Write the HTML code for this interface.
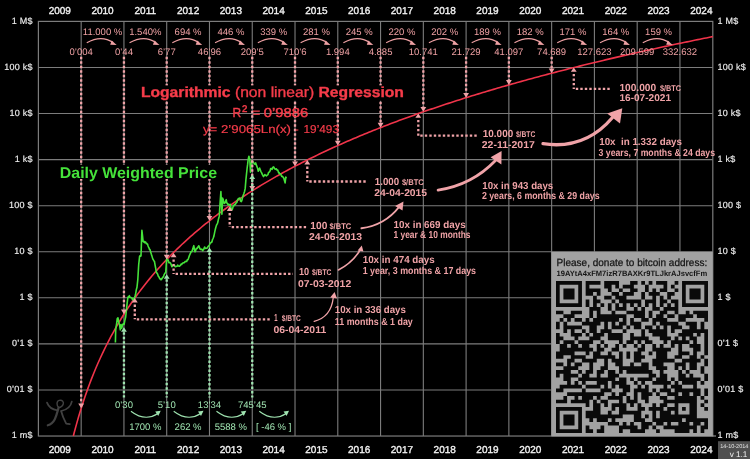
<!DOCTYPE html>
<html><head><meta charset="utf-8"><title>Bitcoin Logarithmic Regression</title>
<style>html,body{margin:0;padding:0;background:#000;overflow:hidden}svg{display:block}</style>
</head><body>
<svg width="750" height="459" viewBox="0 0 750 459" text-rendering="geometricPrecision">
<rect x="0" y="0" width="750" height="459" fill="#000"/>
<path d="M81.17 21.4V436.03M123.94 21.4V436.03M166.71 21.4V436.03M209.48 21.4V436.03M252.25 21.4V436.03M295.02 21.4V436.03M337.79 21.4V436.03M380.56 21.4V436.03M423.33 21.4V436.03M466.1 21.4V436.03M508.87 21.4V436.03M551.64 21.4V436.03M594.41 21.4V436.03M637.18 21.4V436.03M679.95 21.4V436.03M38.4 67.47H712.8M38.4 113.54H712.8M38.4 159.61H712.8M38.4 205.68H712.8M38.4 251.75H712.8M38.4 297.82H712.8M38.4 343.89H712.8M38.4 389.96H712.8" stroke="#7c7c7c" stroke-width="1.1" fill="none"/>
<rect x="38.4" y="21.4" width="674.4" height="414.63" stroke="#7c7c7c" stroke-width="1.2" fill="none"/>
<g font-family="Liberation Sans, Arial, sans-serif" font-size="10" fill="#f2f2f2" stroke="#f2f2f2" stroke-width="0.35" text-anchor="middle">
<text x="59.78" y="13.5">2009</text>
<text x="59.78" y="452.8">2009</text>
<text x="102.56" y="13.5">2010</text>
<text x="102.56" y="452.8">2010</text>
<text x="145.32" y="13.5">2011</text>
<text x="145.32" y="452.8">2011</text>
<text x="188.09" y="13.5">2012</text>
<text x="188.09" y="452.8">2012</text>
<text x="230.87" y="13.5">2013</text>
<text x="230.87" y="452.8">2013</text>
<text x="273.64" y="13.5">2014</text>
<text x="273.64" y="452.8">2014</text>
<text x="316.4" y="13.5">2015</text>
<text x="316.4" y="452.8">2015</text>
<text x="359.18" y="13.5">2016</text>
<text x="359.18" y="452.8">2016</text>
<text x="401.94" y="13.5">2017</text>
<text x="401.94" y="452.8">2017</text>
<text x="444.71" y="13.5">2018</text>
<text x="444.71" y="452.8">2018</text>
<text x="487.49" y="13.5">2019</text>
<text x="487.49" y="452.8">2019</text>
<text x="530.25" y="13.5">2020</text>
<text x="530.25" y="452.8">2020</text>
<text x="573.02" y="13.5">2021</text>
<text x="573.02" y="452.8">2021</text>
<text x="615.79" y="13.5">2022</text>
<text x="615.79" y="452.8">2022</text>
<text x="658.57" y="13.5">2023</text>
<text x="658.57" y="452.8">2023</text>
<text x="701.34" y="13.5">2024</text>
<text x="701.34" y="452.8">2024</text>
</g>
<g font-family="Liberation Sans, Arial, sans-serif" font-size="9" fill="#efefef" stroke="#efefef" stroke-width="0.15" letter-spacing="0.25">
<text x="32.8" y="23.7" text-anchor="end">1 M$</text>
<text x="717.6" y="23.7">1 M$</text>
<text x="32.8" y="69.77" text-anchor="end">100 k$</text>
<text x="717.6" y="69.77">100 k$</text>
<text x="32.8" y="115.84" text-anchor="end">10 k$</text>
<text x="717.6" y="115.84">10 k$</text>
<text x="32.8" y="161.91" text-anchor="end">1 k$</text>
<text x="717.6" y="161.91">1 k$</text>
<text x="32.8" y="207.98" text-anchor="end">100 $</text>
<text x="717.6" y="207.98">100 $</text>
<text x="32.8" y="254.05" text-anchor="end">10 $</text>
<text x="717.6" y="254.05">10 $</text>
<text x="32.8" y="300.12" text-anchor="end">1 $</text>
<text x="717.6" y="300.12">1 $</text>
<text x="32.8" y="346.19" text-anchor="end">0’1 $</text>
<text x="717.6" y="346.19">0’1 $</text>
<text x="32.8" y="392.26" text-anchor="end">0’01 $</text>
<text x="717.6" y="392.26">0’01 $</text>
<text x="32.8" y="438.33" text-anchor="end">1 m$</text>
<text x="717.6" y="438.33">1 m$</text>
</g>
<polyline points="73.34,436.03 74.3,432.3 76.45,424.34 78.6,416.82 80.75,409.7 82.9,402.94 85.05,396.51 87.2,390.37 89.35,384.5 91.5,378.88 93.65,373.48 95.8,368.3 97.95,363.3 100.1,358.49 102.25,353.84 104.4,349.35 106.55,345 108.7,340.8 110.85,336.72 113,332.76 115.15,328.91 117.3,325.17 119.45,321.53 121.6,317.99 123.75,314.54 125.9,311.18 128.05,307.9 130.2,304.7 132.35,301.57 134.49,298.51 136.64,295.53 138.79,292.6 140.94,289.74 143.09,286.94 145.24,284.2 147.39,281.51 149.54,278.88 151.69,276.29 153.84,273.76 155.99,271.27 158.14,268.83 160.29,266.43 162.44,264.07 164.59,261.75 166.74,259.48 168.89,257.24 171.04,255.04 173.19,252.87 175.34,250.74 177.49,248.64 179.64,246.58 181.79,244.54 183.94,242.54 186.09,240.56 188.24,238.62 190.39,236.7 192.54,234.81 194.69,232.94 196.84,231.1 198.99,229.29 201.14,227.5 203.29,225.73 205.44,223.99 207.59,222.27 209.74,220.57 211.89,218.89 214.04,217.24 216.19,215.6 218.34,213.98 220.49,212.39 222.64,210.81 224.79,209.25 226.94,207.7 229.09,206.18 231.24,204.67 233.39,203.18 235.54,201.71 237.69,200.25 239.84,198.81 241.99,197.38 244.14,195.97 246.29,194.57 248.44,193.19 250.59,191.82 252.74,190.46 254.89,189.12 257.04,187.79 259.19,186.48 261.34,185.17 263.48,183.88 265.63,182.61 267.78,181.34 269.93,180.09 272.08,178.85 274.23,177.62 276.38,176.4 278.53,175.19 280.68,173.99 282.83,172.8 284.98,171.63 287.13,170.46 289.28,169.3 291.43,168.16 293.58,167.02 295.73,165.9 297.88,164.78 300.03,163.67 302.18,162.57 304.33,161.48 306.48,160.4 308.63,159.33 310.78,158.26 312.93,157.21 315.08,156.16 317.23,155.12 319.38,154.09 321.53,153.06 323.68,152.05 325.83,151.04 327.98,150.04 330.13,149.05 332.28,148.06 334.43,147.08 336.58,146.11 338.73,145.14 340.88,144.19 343.03,143.24 345.18,142.29 347.33,141.35 349.48,140.42 351.63,139.5 353.78,138.58 355.93,137.67 358.08,136.76 360.23,135.86 362.38,134.97 364.53,134.08 366.68,133.2 368.83,132.32 370.98,131.45 373.13,130.59 375.28,129.73 377.43,128.87 379.58,128.03 381.73,127.18 383.88,126.34 386.03,125.51 388.18,124.68 390.33,123.86 392.47,123.04 394.62,122.23 396.77,121.42 398.92,120.62 401.07,119.82 403.22,119.03 405.37,118.24 407.52,117.46 409.67,116.68 411.82,115.9 413.97,115.13 416.12,114.37 418.27,113.61 420.42,112.85 422.57,112.1 424.72,111.35 426.87,110.6 429.02,109.86 431.17,109.13 433.32,108.39 435.47,107.66 437.62,106.94 439.77,106.22 441.92,105.5 444.07,104.79 446.22,104.08 448.37,103.38 450.52,102.67 452.67,101.98 454.82,101.28 456.97,100.59 459.12,99.9 461.27,99.22 463.42,98.54 465.57,97.86 467.72,97.19 469.87,96.52 472.02,95.85 474.17,95.19 476.32,94.53 478.47,93.87 480.62,93.22 482.77,92.57 484.92,91.92 487.07,91.27 489.22,90.63 491.37,90 493.52,89.36 495.67,88.73 497.82,88.1 499.97,87.47 502.12,86.85 504.27,86.23 506.42,85.61 508.57,85 510.72,84.38 512.87,83.78 515.02,83.17 517.17,82.57 519.32,81.96 521.46,81.37 523.61,80.77 525.76,80.18 527.91,79.59 530.06,79 532.21,78.41 534.36,77.83 536.51,77.25 538.66,76.67 540.81,76.1 542.96,75.53 545.11,74.96 547.26,74.39 549.41,73.82 551.56,73.26 553.71,72.7 555.86,72.14 558.01,71.58 560.16,71.03 562.31,70.48 564.46,69.93 566.61,69.38 568.76,68.84 570.91,68.3 573.06,67.76 575.21,67.22 577.36,66.68 579.51,66.15 581.66,65.62 583.81,65.09 585.96,64.56 588.11,64.03 590.26,63.51 592.41,62.99 594.56,62.47 596.71,61.95 598.86,61.44 601.01,60.92 603.16,60.41 605.31,59.9 607.46,59.39 609.61,58.89 611.76,58.38 613.91,57.88 616.06,57.38 618.21,56.88 620.36,56.39 622.51,55.89 624.66,55.4 626.81,54.91 628.96,54.42 631.11,53.93 633.26,53.45 635.41,52.97 637.56,52.48 639.71,52 641.86,51.52 644.01,51.05 646.16,50.57 648.31,50.1 650.45,49.63 652.6,49.16 654.75,48.69 656.9,48.22 659.05,47.76 661.2,47.29 663.35,46.83 665.5,46.37 667.65,45.91 669.8,45.45 671.95,45 674.1,44.54 676.25,44.09 678.4,43.64 680.55,43.19 682.7,42.74 684.85,42.3 687,41.85 689.15,41.41 691.3,40.97 693.45,40.52 695.6,40.09 697.75,39.65 699.9,39.21 702.05,38.78 704.2,38.34 706.35,37.91 708.5,37.48 710.65,37.05 712.8,36.62" stroke="#f0344a" stroke-width="1.6" fill="none"/>
<polyline points="115.4,342.6 115.7,330.08 116.2,326.03 116.7,323.1 117.2,318.84 118,317.79 118.7,322.23 119.5,324.75 120.3,329.83 121,324.66 121.8,328.15 122.6,324.61 123.1,323.91 123.6,323.9 124.1,324.39 124.8,320.57 125.6,317.36 126.4,310.27 127.1,303.58 127.9,297.31 128.4,296.63 128.9,297.18 129.4,295.68 129.93,297.24 130.47,297.41 131,297.59 131.5,297.72 132,298.36 132.5,299.85 133,299.02 133.5,299.18 134,299.27 134.5,297.69 135,296.58 135.5,294.52 136,291.51 136.5,288.96 137,287.26 137.8,279.68 138.7,264.49 139.15,260.57 139.6,256.25 140.07,255.66 140.53,256.09 141,256.02 141.45,242.67 141.9,230.24 142.5,235.52 143.1,241.41 143.62,241.84 144.14,241.44 144.66,242.62 145.18,241.87 145.7,242.15 146.15,243.37 146.6,243.25 147.05,244.08 147.5,244.02 148,245.65 148.5,247.11 149,247.96 149.5,249.37 150,249.53 150.45,251.35 150.9,252.85 151.35,254.34 151.8,255.62 152.32,257.4 152.84,259.11 153.36,259.76 153.88,261 154.4,261.15 155,264.62 155.6,267.73 156.2,271.37 156.72,272.87 157.24,273.35 157.76,274.43 158.28,276.17 158.8,276.59 159.37,277.97 159.93,278.72 160.5,279.54 160.95,278.84 161.4,279.55 161.85,278.59 162.3,278.09 162.87,277.13 163.43,276.95 164,274.9 164.57,273.91 165.13,273.02 165.7,272.61 166.15,265.96 166.6,259.26 167.05,258.99 167.5,259.38 167.95,259.78 168.4,261.25 168.97,262.69 169.53,262.42 170.1,262.71 170.55,263.37 171,264.13 171.45,265.39 171.9,266.67 172.47,266.03 173.03,265.1 173.6,265.21 174.12,265.33 174.64,265.75 175.16,266.68 175.68,266.72 176.2,266.42 176.7,266.3 177.2,266.28 177.7,265.08 178.2,265.88 178.7,266.04 179.2,266.23 179.7,266.13 180.2,265.32 180.7,264.83 181.2,263.97 181.7,264.41 182.2,263.57 182.7,263.06 183.2,262.99 183.7,262.68 184.2,262.73 184.7,262.12 185.2,261.59 185.7,261.46 186.2,261.18 186.7,261.4 187.25,259.79 187.8,259.87 188.35,258.88 188.9,256.94 189.4,255.6 189.9,254.51 190.4,253.43 190.9,251.88 191.4,251.82 191.9,251.52 192.38,250.07 192.85,248.87 193.33,247.05 193.8,245.64 194.3,248.73 194.8,251.6 195.3,251.62 195.8,249.99 196.3,248.41 196.8,248.77 197.28,248.27 197.75,247.09 198.22,246.95 198.7,245.72 199.2,246.69 199.7,248.24 200.2,249.11 200.7,249.49 201.17,249.16 201.65,249.39 202.12,249.39 202.6,250.7 203.1,249.96 203.6,249.66 204.1,248.35 204.6,247.1 205.08,247.74 205.57,248.33 206.05,248.35 206.53,248.21 207.02,248.09 207.5,247.81 208,246.57 208.5,246.3 209,245.74 209.5,244.74 210,243.57 210.5,243.04 211,242.38 211.5,242.46 211.98,241.76 212.47,239.72 212.95,238.74 213.43,237.56 213.92,236.12 214.4,233.53 214.9,231.11 215.4,229.06 215.9,227.14 216.4,225.36 216.9,224.4 217.4,223.64 217.88,222.06 218.35,219.66 218.83,217.78 219.3,216.13 219.8,207.16 220.3,199.73 220.9,191.61 221.4,203 221.9,214.27 222.6,198.1 223.13,199.26 223.67,201.89 224.2,203.39 224.7,203.01 225.2,202.66 225.7,201 226.2,199.66 226.67,201.91 227.15,203.41 227.62,203.91 228.1,204.76 228.6,204.22 229.1,205.16 229.6,205.39 230.1,204.22 230.6,206.16 231.1,208.05 231.6,209.06 232.1,209.62 232.57,208.63 233.05,206.9 233.53,205.3 234,205.7 234.5,205.13 235,204.26 235.5,204.17 236,202.89 236.47,202.66 236.95,202.12 237.43,200.39 237.9,199.19 238.4,198.75 238.9,198.3 239.4,198.57 239.9,198.01 240.5,201.03 241.3,201.58 241.95,200.13 242.6,197.16 243.25,195.2 243.9,193.47 244.55,191.51 245.2,188.38 245.9,179.9 246.55,173.6 247.2,167.53 247.65,164.18 248.1,159.96 248.9,156.28 249.35,157.9 249.8,159.34 250.5,172.29 251.1,165.19 251.55,162.86 252,160.87 252.55,161.54 253.1,161.79 253.75,162.92 254.4,164.06 255.05,164.19 255.7,162.89 256.35,165.13 257,166.68 257.65,168.46 258.3,171.21 258.95,169.58 259.6,168.05 260.25,169.75 260.9,171.55 261.55,172.62 262.2,174.26 262.85,175.36 263.5,176.57 264.15,175.84 264.8,174.56 265.45,175.2 266.1,175.74 266.57,175.88 267.03,175.24 267.5,174.92 267.98,174.54 268.45,172.79 268.92,172.07 269.4,172.06 270.05,170.94 270.7,168.47 271.35,168.45 272,169.31 272.65,167.81 273.3,166.86 273.95,167.21 274.6,168.77 275.25,169.12 275.9,169.37 276.37,168.79 276.83,169.68 277.3,170.26 277.77,170.08 278.25,171.62 278.73,172.93 279.2,172.6 279.7,173.85 280.2,173.75 280.7,174.06 281.2,175.36 281.85,176.53 282.5,176.41 283.15,177.23 283.8,178.26 284.45,180.64 285.1,182.88 285.8,176.98 286.4,178.3" stroke="#45e23a" stroke-width="1.6" fill="none" stroke-linejoin="round"/>
<g font-family="Liberation Sans, Arial, sans-serif" font-size="9.5" fill="#eea0a3" text-anchor="middle">
<text x="81.17" y="54.5">0’004</text>
<text x="123.94" y="54.5">0’44</text>
<text x="166.71" y="54.5">6’77</text>
<text x="209.48" y="54.5">46’96</text>
<text x="252.25" y="54.5">209’5</text>
<text x="295.02" y="54.5">710’6</text>
<text x="337.79" y="54.5">1.994</text>
<text x="380.56" y="54.5">4.885</text>
<text x="423.33" y="54.5">10.741</text>
<text x="466.1" y="54.5">21.729</text>
<text x="508.87" y="54.5">41.097</text>
<text x="551.64" y="54.5">74.689</text>
<text x="594.41" y="54.5">127.623</text>
<text x="637.18" y="54.5">209.599</text>
<text x="679.95" y="54.5">332.632</text>
<text x="102.56" y="34.8">11.000 %</text>
<text x="145.32" y="34.8">1.540%</text>
<text x="188.09" y="34.8">694 %</text>
<text x="230.87" y="34.8">446 %</text>
<text x="273.64" y="34.8">339 %</text>
<text x="316.4" y="34.8">281 %</text>
<text x="359.18" y="34.8">245 %</text>
<text x="401.94" y="34.8">220 %</text>
<text x="444.71" y="34.8">202 %</text>
<text x="487.49" y="34.8">189 %</text>
<text x="530.25" y="34.8">182 %</text>
<text x="573.02" y="34.8">171 %</text>
<text x="615.79" y="34.8">164 %</text>
<text x="658.57" y="34.8">159 %</text>
</g>
<path d="M86.77 42.8Q101.17 34.5 113.17 42.5" stroke="#eea0a3" stroke-width="1.1" fill="none"/>
<path d="M111.67 40.6L116.67 45L110.17 44.8Z" fill="#eea0a3"/>
<path d="M129.54 42.8Q143.94 34.5 155.94 42.5" stroke="#eea0a3" stroke-width="1.1" fill="none"/>
<path d="M154.44 40.6L159.44 45L152.94 44.8Z" fill="#eea0a3"/>
<path d="M172.31 42.8Q186.71 34.5 198.71 42.5" stroke="#eea0a3" stroke-width="1.1" fill="none"/>
<path d="M197.21 40.6L202.21 45L195.71 44.8Z" fill="#eea0a3"/>
<path d="M215.08 42.8Q229.48 34.5 241.48 42.5" stroke="#eea0a3" stroke-width="1.1" fill="none"/>
<path d="M239.98 40.6L244.98 45L238.48 44.8Z" fill="#eea0a3"/>
<path d="M257.85 42.8Q272.25 34.5 284.25 42.5" stroke="#eea0a3" stroke-width="1.1" fill="none"/>
<path d="M282.75 40.6L287.75 45L281.25 44.8Z" fill="#eea0a3"/>
<path d="M300.62 42.8Q315.02 34.5 327.02 42.5" stroke="#eea0a3" stroke-width="1.1" fill="none"/>
<path d="M325.52 40.6L330.52 45L324.02 44.8Z" fill="#eea0a3"/>
<path d="M343.39 42.8Q357.79 34.5 369.79 42.5" stroke="#eea0a3" stroke-width="1.1" fill="none"/>
<path d="M368.29 40.6L373.29 45L366.79 44.8Z" fill="#eea0a3"/>
<path d="M386.16 42.8Q400.56 34.5 412.56 42.5" stroke="#eea0a3" stroke-width="1.1" fill="none"/>
<path d="M411.06 40.6L416.06 45L409.56 44.8Z" fill="#eea0a3"/>
<path d="M428.93 42.8Q443.33 34.5 455.33 42.5" stroke="#eea0a3" stroke-width="1.1" fill="none"/>
<path d="M453.83 40.6L458.83 45L452.33 44.8Z" fill="#eea0a3"/>
<path d="M471.7 42.8Q486.1 34.5 498.1 42.5" stroke="#eea0a3" stroke-width="1.1" fill="none"/>
<path d="M496.6 40.6L501.6 45L495.1 44.8Z" fill="#eea0a3"/>
<path d="M514.47 42.8Q528.87 34.5 540.87 42.5" stroke="#eea0a3" stroke-width="1.1" fill="none"/>
<path d="M539.37 40.6L544.37 45L537.87 44.8Z" fill="#eea0a3"/>
<path d="M557.24 42.8Q571.64 34.5 583.64 42.5" stroke="#eea0a3" stroke-width="1.1" fill="none"/>
<path d="M582.14 40.6L587.14 45L580.64 44.8Z" fill="#eea0a3"/>
<path d="M600.01 42.8Q614.41 34.5 626.41 42.5" stroke="#eea0a3" stroke-width="1.1" fill="none"/>
<path d="M624.91 40.6L629.91 45L623.41 44.8Z" fill="#eea0a3"/>
<path d="M642.78 42.8Q657.18 34.5 669.18 42.5" stroke="#eea0a3" stroke-width="1.1" fill="none"/>
<path d="M667.68 40.6L672.68 45L666.18 44.8Z" fill="#eea0a3"/>
<path d="M81.17 56.8V403.35" stroke="#f0a3a8" stroke-width="2.3" stroke-dasharray="2.4 2.1" fill="none"/>
<path d="M78.27 403.55H84.07L81.17 408.35Z" fill="#f0a3a8"/>
<path d="M123.94 56.8V309.24" stroke="#f0a3a8" stroke-width="2.3" stroke-dasharray="2.4 2.1" fill="none"/>
<path d="M121.04 309.44H126.84L123.94 314.24Z" fill="#f0a3a8"/>
<path d="M166.71 56.8V254.51" stroke="#f0a3a8" stroke-width="2.3" stroke-dasharray="2.4 2.1" fill="none"/>
<path d="M163.81 254.71H169.61L166.71 259.51Z" fill="#f0a3a8"/>
<path d="M209.48 56.8V215.77" stroke="#f0a3a8" stroke-width="2.3" stroke-dasharray="2.4 2.1" fill="none"/>
<path d="M206.58 215.97H212.38L209.48 220.77Z" fill="#f0a3a8"/>
<path d="M252.25 56.8V185.77" stroke="#f0a3a8" stroke-width="2.3" stroke-dasharray="2.4 2.1" fill="none"/>
<path d="M249.35 185.97H255.15L252.25 190.77Z" fill="#f0a3a8"/>
<path d="M295.02 56.8V161.27" stroke="#f0a3a8" stroke-width="2.3" stroke-dasharray="2.4 2.1" fill="none"/>
<path d="M292.12 161.47H297.92L295.02 166.27Z" fill="#f0a3a8"/>
<path d="M337.79 56.8V140.57" stroke="#f0a3a8" stroke-width="2.3" stroke-dasharray="2.4 2.1" fill="none"/>
<path d="M334.89 140.77H340.69L337.79 145.57Z" fill="#f0a3a8"/>
<path d="M380.56 56.8V122.64" stroke="#f0a3a8" stroke-width="2.3" stroke-dasharray="2.4 2.1" fill="none"/>
<path d="M377.66 122.84H383.46L380.56 127.64Z" fill="#f0a3a8"/>
<path d="M423.33 56.8V106.83" stroke="#f0a3a8" stroke-width="2.3" stroke-dasharray="2.4 2.1" fill="none"/>
<path d="M420.43 107.03H426.23L423.33 111.83Z" fill="#f0a3a8"/>
<path d="M466.1 56.8V92.7" stroke="#f0a3a8" stroke-width="2.3" stroke-dasharray="2.4 2.1" fill="none"/>
<path d="M463.2 92.9H469L466.1 97.7Z" fill="#f0a3a8"/>
<path d="M508.87 56.8V79.91" stroke="#f0a3a8" stroke-width="2.3" stroke-dasharray="2.4 2.1" fill="none"/>
<path d="M505.97 80.11H511.77L508.87 84.91Z" fill="#f0a3a8"/>
<path d="M551.64 56.8V68.24" stroke="#f0a3a8" stroke-width="2.3" stroke-dasharray="2.4 2.1" fill="none"/>
<path d="M548.74 68.44H554.54L551.64 73.24Z" fill="#f0a3a8"/>
<path d="M123.94 332.3V397.5" stroke="#9fe3b0" stroke-width="2.3" stroke-dasharray="2.4 2.1" fill="none"/>
<path d="M121.04 331.8H126.84L123.94 327.3Z" fill="#9fe3b0"/>
<path d="M166.71 279.3V397.5" stroke="#9fe3b0" stroke-width="2.3" stroke-dasharray="2.4 2.1" fill="none"/>
<path d="M163.81 278.8H169.61L166.71 274.3Z" fill="#9fe3b0"/>
<path d="M209.48 252.6V397.5" stroke="#9fe3b0" stroke-width="2.3" stroke-dasharray="2.4 2.1" fill="none"/>
<path d="M206.58 252.1H212.38L209.48 247.6Z" fill="#9fe3b0"/>
<path d="M252.25 179.5V397.5" stroke="#9fe3b0" stroke-width="2.3" stroke-dasharray="2.4 2.1" fill="none"/>
<path d="M249.35 179H255.15L252.25 174.5Z" fill="#9fe3b0"/>
<g font-family="Liberation Sans, Arial, sans-serif" font-size="9.5" fill="#9fe3b0" text-anchor="middle">
<text x="123.94" y="407.7">0’30</text>
<text x="166.71" y="407.7">5’10</text>
<text x="209.48" y="407.7">13’34</text>
<text x="252.25" y="407.7">745’45</text>
<text x="145.32" y="429.7">1700 %</text>
<text x="188.09" y="429.7">262 %</text>
<text x="230.87" y="429.7">5588 %</text>
<text x="273.64" y="429.7">[ -46 % ]</text>
</g>
<path d="M130.94 411.2Q144.94 422 157.94 413.5" stroke="#9fe3b0" stroke-width="1.1" fill="none"/>
<path d="M155.24 411.6L160.74 410.7L158.24 415.9Z" fill="#9fe3b0"/>
<path d="M173.71 411.2Q187.71 422 200.71 413.5" stroke="#9fe3b0" stroke-width="1.1" fill="none"/>
<path d="M198.01 411.6L203.51 410.7L201.01 415.9Z" fill="#9fe3b0"/>
<path d="M216.48 411.2Q230.48 422 243.48 413.5" stroke="#9fe3b0" stroke-width="1.1" fill="none"/>
<path d="M240.78 411.6L246.28 410.7L243.78 415.9Z" fill="#9fe3b0"/>
<path d="M259.25 411.2Q273.25 422 286.25 413.5" stroke="#9fe3b0" stroke-width="1.1" fill="none"/>
<path d="M283.55 411.6L289.05 410.7L286.55 415.9Z" fill="#9fe3b0"/>
<path d="M131.9 302.4H137.7L134.8 298Z" fill="#f0a3a8"/>
<path d="M134.8 304.5V319.3" stroke="#f0a3a8" stroke-width="2.3" stroke-dasharray="2.4 2.1" fill="none"/>
<path d="M136.8 319.3H271.5" stroke="#f0a3a8" stroke-width="2.3" stroke-dasharray="2.4 2.1" fill="none"/>
<text x="274.3" y="320.5" font-size="10.3" textLength="3.3" lengthAdjust="spacingAndGlyphs" font-family="Liberation Sans, Arial, sans-serif" fill="#efa2a6" font-weight="bold">1</text>
<text x="281.8" y="320.5" font-size="8.3" textLength="19.1" lengthAdjust="spacingAndGlyphs" font-family="Liberation Sans, Arial, sans-serif" fill="#efa2a6" font-weight="bold">$/BTC</text>
<text x="273.4" y="332.7" font-size="9.9" textLength="52.8" lengthAdjust="spacingAndGlyphs" font-family="Liberation Sans, Arial, sans-serif" fill="#efa2a6" font-weight="bold">06-04-2011</text>
<path d="M170.7 257.3H176.5L173.6 252.9Z" fill="#f0a3a8"/>
<path d="M173.6 259.4V273.9" stroke="#f0a3a8" stroke-width="2.3" stroke-dasharray="2.4 2.1" fill="none"/>
<path d="M175.6 273.9H293" stroke="#f0a3a8" stroke-width="2.3" stroke-dasharray="2.4 2.1" fill="none"/>
<text x="298.9" y="274.6" font-size="10.3" textLength="10.2" lengthAdjust="spacingAndGlyphs" font-family="Liberation Sans, Arial, sans-serif" fill="#efa2a6" font-weight="bold">10</text>
<text x="311.9" y="274.6" font-size="8.3" textLength="19.6" lengthAdjust="spacingAndGlyphs" font-family="Liberation Sans, Arial, sans-serif" fill="#efa2a6" font-weight="bold">$/BTC</text>
<text x="297.9" y="286.5" font-size="9.9" textLength="53.3" lengthAdjust="spacingAndGlyphs" font-family="Liberation Sans, Arial, sans-serif" fill="#efa2a6" font-weight="bold">07-03-2012</text>
<path d="M226.8 210.9H232.6L229.7 206.5Z" fill="#f0a3a8"/>
<path d="M229.7 213V227.1" stroke="#f0a3a8" stroke-width="2.3" stroke-dasharray="2.4 2.1" fill="none"/>
<path d="M231.7 227.1H307.5" stroke="#f0a3a8" stroke-width="2.3" stroke-dasharray="2.4 2.1" fill="none"/>
<text x="310.3" y="228.8" font-size="10.3" textLength="17" lengthAdjust="spacingAndGlyphs" font-family="Liberation Sans, Arial, sans-serif" fill="#efa2a6" font-weight="bold">100</text>
<text x="329.4" y="228.8" font-size="8.3" textLength="21.8" lengthAdjust="spacingAndGlyphs" font-family="Liberation Sans, Arial, sans-serif" fill="#efa2a6" font-weight="bold">$/BTC</text>
<text x="308.9" y="240.4" font-size="9.9" textLength="53.2" lengthAdjust="spacingAndGlyphs" font-family="Liberation Sans, Arial, sans-serif" fill="#efa2a6" font-weight="bold">24-06-2013</text>
<path d="M304.4 164.5H310.2L307.3 160.1Z" fill="#f0a3a8"/>
<path d="M307.3 166.6V181.5" stroke="#f0a3a8" stroke-width="2.3" stroke-dasharray="2.4 2.1" fill="none"/>
<path d="M309.3 181.5H366.5" stroke="#f0a3a8" stroke-width="2.3" stroke-dasharray="2.4 2.1" fill="none"/>
<text x="374.8" y="184.5" font-size="10.3" textLength="24.3" lengthAdjust="spacingAndGlyphs" font-family="Liberation Sans, Arial, sans-serif" fill="#efa2a6" font-weight="bold">1.000</text>
<text x="401.9" y="184.5" font-size="8.3" textLength="21.9" lengthAdjust="spacingAndGlyphs" font-family="Liberation Sans, Arial, sans-serif" fill="#efa2a6" font-weight="bold">$/BTC</text>
<text x="374.3" y="196.1" font-size="9.9" textLength="52.8" lengthAdjust="spacingAndGlyphs" font-family="Liberation Sans, Arial, sans-serif" fill="#efa2a6" font-weight="bold">24-04-2015</text>
<path d="M415.4 117.8H421.2L418.3 113.4Z" fill="#f0a3a8"/>
<path d="M418.3 119.9V135.7" stroke="#f0a3a8" stroke-width="2.3" stroke-dasharray="2.4 2.1" fill="none"/>
<path d="M420.3 135.7H478" stroke="#f0a3a8" stroke-width="2.3" stroke-dasharray="2.4 2.1" fill="none"/>
<text x="482.8" y="136.6" font-size="10.3" textLength="30.4" lengthAdjust="spacingAndGlyphs" font-family="Liberation Sans, Arial, sans-serif" fill="#efa2a6" font-weight="bold">10.000</text>
<text x="515.9" y="136.6" font-size="8.3" textLength="19.4" lengthAdjust="spacingAndGlyphs" font-family="Liberation Sans, Arial, sans-serif" fill="#efa2a6" font-weight="bold">$/BTC</text>
<text x="481.7" y="147.6" font-size="9.9" textLength="53.2" lengthAdjust="spacingAndGlyphs" font-family="Liberation Sans, Arial, sans-serif" fill="#efa2a6" font-weight="bold">22-11-2017</text>
<path d="M570.9 71.8H576.7L573.8 67.4Z" fill="#f0a3a8"/>
<path d="M573.8 73.9V88.9" stroke="#f0a3a8" stroke-width="2.3" stroke-dasharray="2.4 2.1" fill="none"/>
<path d="M575.8 88.9H611.5" stroke="#f0a3a8" stroke-width="2.3" stroke-dasharray="2.4 2.1" fill="none"/>
<text x="619.4" y="90.5" font-size="10.3" textLength="36.8" lengthAdjust="spacingAndGlyphs" font-family="Liberation Sans, Arial, sans-serif" fill="#efa2a6" font-weight="bold">100.000</text>
<text x="659.9" y="90.5" font-size="8.3" textLength="21.1" lengthAdjust="spacingAndGlyphs" font-family="Liberation Sans, Arial, sans-serif" fill="#efa2a6" font-weight="bold">$/BTC</text>
<text x="619.4" y="101.1" font-size="9.9" textLength="51.7" lengthAdjust="spacingAndGlyphs" font-family="Liberation Sans, Arial, sans-serif" fill="#efa2a6" font-weight="bold">16-07-2021</text>
<path d="M314.2 321.4Q331 317 333.2 298" stroke="#f0a3a8" stroke-width="1.3" fill="none" stroke-linecap="round"/>
<path d="M334.6 292L330.2 297.6L337 298.4Z" fill="#f0a3a8"/>
<path d="M338.4 270Q352 263 359.5 251" stroke="#f0a3a8" stroke-width="1.6" fill="none" stroke-linecap="round"/>
<path d="M361.8 245.4L357.6 250.6L363.4 251.6Z" fill="#f0a3a8"/>
<path d="M361.5 228.3Q385 225 399 207" stroke="#f0a3a8" stroke-width="2.0" fill="none" stroke-linecap="round"/>
<path d="M403.5 201.4L395.1 206L402.5 210.6Z" fill="#f0a3a8"/>
<path d="M438.1 190.1Q472 185 495.5 160.5" stroke="#f0a3a8" stroke-width="2.8" fill="none" stroke-linecap="round"/>
<path d="M501.6 151.1L490.6 157.2L501.4 164.6Z" fill="#f0a3a8"/>
<path d="M543 143.7Q585 150 612.5 117.5" stroke="#f0a3a8" stroke-width="3.3" fill="none" stroke-linecap="round"/>
<path d="M622.3 108.3L607.2 113.4L620 123.6Z" fill="#f0a3a8"/>
<text x="334.8" y="313.4" font-size="10.1" textLength="71.1" lengthAdjust="spacingAndGlyphs" xml:space="preserve" font-family="Liberation Sans, Arial, sans-serif" fill="#efa2a6" font-weight="bold">10x in 336 days</text>
<text x="334.8" y="324.6" font-size="10.1" textLength="78" lengthAdjust="spacingAndGlyphs" xml:space="preserve" font-family="Liberation Sans, Arial, sans-serif" fill="#efa2a6" font-weight="bold">11 months &amp; 1 day</text>
<text x="362.7" y="263.3" font-size="10.1" textLength="72" lengthAdjust="spacingAndGlyphs" xml:space="preserve" font-family="Liberation Sans, Arial, sans-serif" fill="#efa2a6" font-weight="bold">10x in 474 days</text>
<text x="362.7" y="273.5" font-size="10.1" textLength="113.3" lengthAdjust="spacingAndGlyphs" xml:space="preserve" font-family="Liberation Sans, Arial, sans-serif" fill="#efa2a6" font-weight="bold">1 year, 3 months &amp; 17 days</text>
<text x="393.5" y="227.5" font-size="10.1" textLength="72.2" lengthAdjust="spacingAndGlyphs" xml:space="preserve" font-family="Liberation Sans, Arial, sans-serif" fill="#efa2a6" font-weight="bold">10x in 669 days</text>
<text x="393.5" y="237.9" font-size="10.1" textLength="77" lengthAdjust="spacingAndGlyphs" xml:space="preserve" font-family="Liberation Sans, Arial, sans-serif" fill="#efa2a6" font-weight="bold">1 year &amp; 10 months</text>
<text x="482.3" y="188.7" font-size="10.1" textLength="70.9" lengthAdjust="spacingAndGlyphs" xml:space="preserve" font-family="Liberation Sans, Arial, sans-serif" fill="#efa2a6" font-weight="bold">10x in 943 days</text>
<text x="481.9" y="198.9" font-size="10.1" textLength="117.7" lengthAdjust="spacingAndGlyphs" xml:space="preserve" font-family="Liberation Sans, Arial, sans-serif" fill="#efa2a6" font-weight="bold">2 years, 6 months &amp; 29 days</text>
<text x="599.2" y="144.6" font-size="10.1" textLength="82.8" lengthAdjust="spacingAndGlyphs" xml:space="preserve" font-family="Liberation Sans, Arial, sans-serif" fill="#efa2a6" font-weight="bold">10x  in 1.332 days</text>
<text x="598.6" y="155.9" font-size="10.1" textLength="116.4" lengthAdjust="spacingAndGlyphs" xml:space="preserve" font-family="Liberation Sans, Arial, sans-serif" fill="#efa2a6" font-weight="bold">3 years, 7 months &amp; 24 days</text>
<rect x="139.6" y="85.4" width="265.8" height="15.4" fill="#000"/>
<rect x="58.4" y="165.0" width="160.4" height="14.0" fill="#000"/>
<text x="140.9" y="97" font-family="Liberation Sans, Arial, sans-serif" font-size="14.6" fill="#f63c4a" stroke="#f63c4a" stroke-width="0.35" textLength="263" lengthAdjust="spacingAndGlyphs"><tspan font-weight="bold">Logarithmic</tspan> (non linear) <tspan font-weight="bold">Regression</tspan></text>
<g font-family="Liberation Sans, Arial, sans-serif" fill="#f63c4a" stroke="#f63c4a" stroke-width="0.45"><text x="232.6" y="117" font-size="13" textLength="8.6" lengthAdjust="spacingAndGlyphs">R</text><text x="242.0" y="111.8" font-size="9.6">2</text><text x="252.4" y="117" font-size="13" textLength="7.6" lengthAdjust="spacingAndGlyphs">=</text><text x="263.8" y="117" font-size="13" textLength="44.5" lengthAdjust="spacingAndGlyphs">0’9886</text></g>
<g font-family="Liberation Sans, Arial, sans-serif" font-size="11.5" fill="#f63c4a" stroke="#f63c4a" stroke-width="0.18"><text x="202.9" y="133.2" textLength="88.1" lengthAdjust="spacingAndGlyphs">y= 2’9065Ln(x)</text><text x="295.3" y="133.2" textLength="3.4" lengthAdjust="spacingAndGlyphs">-</text><text x="303.5" y="133.2" textLength="35.5" lengthAdjust="spacingAndGlyphs">19’493</text></g>
<text x="59.8" y="177.8" font-family="Liberation Sans, Arial, sans-serif" font-size="15.5" font-weight="bold" fill="#45e23a" textLength="157.2" lengthAdjust="spacingAndGlyphs">Daily Weighted Price</text>
<rect x="551.4" y="251.8" width="161.4" height="184.6" fill="#a2a2a2"/>
<rect x="712.5" y="435.5" width="3.5" height="1" fill="#a0a0a0"/>
<text x="556.6" y="265.6" font-family="Liberation Sans, Arial, sans-serif" font-size="10.4" fill="#141414" stroke="#141414" stroke-width="0.25" textLength="150.6" lengthAdjust="spacingAndGlyphs">Please, donate to bitcoin address:</text>
<text x="556.6" y="276.2" font-family="Liberation Sans, Arial, sans-serif" font-size="7.8" font-weight="bold" fill="#141414" textLength="150.6" lengthAdjust="spacingAndGlyphs">19AYtA4xFM7izR7BAXKr9TLJkrAJsvcfFm</text>
<path d="M556 281h25.95v3.71h-25.95zM585.66 281h14.83v3.71h-14.83zM604.2 281h14.83v3.71h-14.83zM630.15 281h7.41v3.71h-7.41zM641.27 281h3.71v3.71h-3.71zM648.68 281h3.71v3.71h-3.71zM656.1 281h11.12v3.71h-11.12zM674.63 281h3.71v3.71h-3.71zM682.05 281h25.95v3.71h-25.95zM556 284.71h3.71v3.71h-3.71zM578.24 284.71h3.71v3.71h-3.71zM585.66 284.71h3.71v3.71h-3.71zM604.2 284.71h7.41v3.71h-7.41zM615.32 284.71h3.71v3.71h-3.71zM622.73 284.71h11.12v3.71h-11.12zM644.98 284.71h3.71v3.71h-3.71zM663.51 284.71h3.71v3.71h-3.71zM670.93 284.71h3.71v3.71h-3.71zM682.05 284.71h3.71v3.71h-3.71zM704.29 284.71h3.71v3.71h-3.71zM556 288.41h3.71v3.71h-3.71zM563.41 288.41h11.12v3.71h-11.12zM578.24 288.41h3.71v3.71h-3.71zM585.66 288.41h14.83v3.71h-14.83zM607.9 288.41h3.71v3.71h-3.71zM619.02 288.41h3.71v3.71h-3.71zM630.15 288.41h7.41v3.71h-7.41zM644.98 288.41h3.71v3.71h-3.71zM652.39 288.41h3.71v3.71h-3.71zM659.8 288.41h7.41v3.71h-7.41zM674.63 288.41h3.71v3.71h-3.71zM682.05 288.41h3.71v3.71h-3.71zM689.46 288.41h11.12v3.71h-11.12zM704.29 288.41h3.71v3.71h-3.71zM556 292.12h3.71v3.71h-3.71zM563.41 292.12h11.12v3.71h-11.12zM578.24 292.12h3.71v3.71h-3.71zM585.66 292.12h7.41v3.71h-7.41zM596.78 292.12h3.71v3.71h-3.71zM611.61 292.12h7.41v3.71h-7.41zM622.73 292.12h11.12v3.71h-11.12zM641.27 292.12h3.71v3.71h-3.71zM648.68 292.12h11.12v3.71h-11.12zM667.22 292.12h7.41v3.71h-7.41zM682.05 292.12h3.71v3.71h-3.71zM689.46 292.12h11.12v3.71h-11.12zM704.29 292.12h3.71v3.71h-3.71zM556 295.83h3.71v3.71h-3.71zM563.41 295.83h11.12v3.71h-11.12zM578.24 295.83h3.71v3.71h-3.71zM593.07 295.83h3.71v3.71h-3.71zM604.2 295.83h7.41v3.71h-7.41zM615.32 295.83h11.12v3.71h-11.12zM641.27 295.83h3.71v3.71h-3.71zM652.39 295.83h3.71v3.71h-3.71zM659.8 295.83h3.71v3.71h-3.71zM667.22 295.83h3.71v3.71h-3.71zM682.05 295.83h3.71v3.71h-3.71zM689.46 295.83h11.12v3.71h-11.12zM704.29 295.83h3.71v3.71h-3.71zM556 299.54h3.71v3.71h-3.71zM578.24 299.54h3.71v3.71h-3.71zM585.66 299.54h3.71v3.71h-3.71zM593.07 299.54h7.41v3.71h-7.41zM611.61 299.54h3.71v3.71h-3.71zM619.02 299.54h22.24v3.71h-22.24zM644.98 299.54h11.12v3.71h-11.12zM659.8 299.54h7.41v3.71h-7.41zM670.93 299.54h7.41v3.71h-7.41zM682.05 299.54h3.71v3.71h-3.71zM704.29 299.54h3.71v3.71h-3.71zM556 303.24h25.95v3.71h-25.95zM585.66 303.24h3.71v3.71h-3.71zM593.07 303.24h3.71v3.71h-3.71zM600.49 303.24h3.71v3.71h-3.71zM607.9 303.24h3.71v3.71h-3.71zM615.32 303.24h3.71v3.71h-3.71zM622.73 303.24h3.71v3.71h-3.71zM630.15 303.24h3.71v3.71h-3.71zM637.56 303.24h3.71v3.71h-3.71zM644.98 303.24h3.71v3.71h-3.71zM652.39 303.24h3.71v3.71h-3.71zM659.8 303.24h3.71v3.71h-3.71zM667.22 303.24h3.71v3.71h-3.71zM674.63 303.24h3.71v3.71h-3.71zM682.05 303.24h25.95v3.71h-25.95zM589.37 306.95h11.12v3.71h-11.12zM607.9 306.95h3.71v3.71h-3.71zM615.32 306.95h11.12v3.71h-11.12zM633.85 306.95h3.71v3.71h-3.71zM641.27 306.95h3.71v3.71h-3.71zM652.39 306.95h7.41v3.71h-7.41zM663.51 306.95h14.83v3.71h-14.83zM556 310.66h7.41v3.71h-7.41zM570.83 310.66h11.12v3.71h-11.12zM589.37 310.66h3.71v3.71h-3.71zM596.78 310.66h3.71v3.71h-3.71zM611.61 310.66h3.71v3.71h-3.71zM626.44 310.66h18.54v3.71h-18.54zM648.68 310.66h3.71v3.71h-3.71zM659.8 310.66h7.41v3.71h-7.41zM674.63 310.66h3.71v3.71h-3.71zM685.76 310.66h3.71v3.71h-3.71zM693.17 310.66h14.83v3.71h-14.83zM563.41 314.37h11.12v3.71h-11.12zM589.37 314.37h3.71v3.71h-3.71zM596.78 314.37h29.66v3.71h-29.66zM633.85 314.37h11.12v3.71h-11.12zM648.68 314.37h3.71v3.71h-3.71zM656.1 314.37h7.41v3.71h-7.41zM667.22 314.37h7.41v3.71h-7.41zM678.34 314.37h14.83v3.71h-14.83zM696.88 314.37h11.12v3.71h-11.12zM559.71 318.07h3.71v3.71h-3.71zM567.12 318.07h3.71v3.71h-3.71zM574.54 318.07h7.41v3.71h-7.41zM585.66 318.07h3.71v3.71h-3.71zM593.07 318.07h25.95v3.71h-25.95zM622.73 318.07h3.71v3.71h-3.71zM630.15 318.07h3.71v3.71h-3.71zM641.27 318.07h7.41v3.71h-7.41zM652.39 318.07h14.83v3.71h-14.83zM678.34 318.07h7.41v3.71h-7.41zM704.29 318.07h3.71v3.71h-3.71zM556 321.78h3.71v3.71h-3.71zM563.41 321.78h3.71v3.71h-3.71zM581.95 321.78h18.54v3.71h-18.54zM604.2 321.78h3.71v3.71h-3.71zM611.61 321.78h3.71v3.71h-3.71zM619.02 321.78h7.41v3.71h-7.41zM630.15 321.78h11.12v3.71h-11.12zM652.39 321.78h3.71v3.71h-3.71zM659.8 321.78h18.54v3.71h-18.54zM685.76 321.78h11.12v3.71h-11.12zM700.59 321.78h3.71v3.71h-3.71zM556 325.49h3.71v3.71h-3.71zM563.41 325.49h18.54v3.71h-18.54zM589.37 325.49h7.41v3.71h-7.41zM604.2 325.49h3.71v3.71h-3.71zM611.61 325.49h11.12v3.71h-11.12zM626.44 325.49h3.71v3.71h-3.71zM633.85 325.49h7.41v3.71h-7.41zM644.98 325.49h7.41v3.71h-7.41zM656.1 325.49h3.71v3.71h-3.71zM663.51 325.49h3.71v3.71h-3.71zM670.93 325.49h11.12v3.71h-11.12zM689.46 325.49h7.41v3.71h-7.41zM700.59 325.49h3.71v3.71h-3.71zM563.41 329.2h3.71v3.71h-3.71zM570.83 329.2h3.71v3.71h-3.71zM581.95 329.2h3.71v3.71h-3.71zM589.37 329.2h7.41v3.71h-7.41zM600.49 329.2h11.12v3.71h-11.12zM622.73 329.2h3.71v3.71h-3.71zM641.27 329.2h3.71v3.71h-3.71zM648.68 329.2h18.54v3.71h-18.54zM670.93 329.2h3.71v3.71h-3.71zM682.05 329.2h25.95v3.71h-25.95zM556 332.9h3.71v3.71h-3.71zM570.83 332.9h11.12v3.71h-11.12zM585.66 332.9h3.71v3.71h-3.71zM593.07 332.9h11.12v3.71h-11.12zM607.9 332.9h14.83v3.71h-14.83zM630.15 332.9h3.71v3.71h-3.71zM641.27 332.9h3.71v3.71h-3.71zM652.39 332.9h14.83v3.71h-14.83zM678.34 332.9h14.83v3.71h-14.83zM696.88 332.9h3.71v3.71h-3.71zM704.29 332.9h3.71v3.71h-3.71zM556 336.61h7.41v3.71h-7.41zM574.54 336.61h3.71v3.71h-3.71zM589.37 336.61h11.12v3.71h-11.12zM607.9 336.61h14.83v3.71h-14.83zM630.15 336.61h18.54v3.71h-18.54zM659.8 336.61h11.12v3.71h-11.12zM674.63 336.61h3.71v3.71h-3.71zM682.05 336.61h3.71v3.71h-3.71zM689.46 336.61h7.41v3.71h-7.41zM704.29 336.61h3.71v3.71h-3.71zM556 340.32h3.71v3.71h-3.71zM563.41 340.32h11.12v3.71h-11.12zM578.24 340.32h14.83v3.71h-14.83zM600.49 340.32h3.71v3.71h-3.71zM619.02 340.32h3.71v3.71h-3.71zM626.44 340.32h7.41v3.71h-7.41zM637.56 340.32h3.71v3.71h-3.71zM644.98 340.32h7.41v3.71h-7.41zM663.51 340.32h3.71v3.71h-3.71zM670.93 340.32h18.54v3.71h-18.54zM693.17 340.32h3.71v3.71h-3.71zM704.29 340.32h3.71v3.71h-3.71zM559.71 344.02h7.41v3.71h-7.41zM570.83 344.02h7.41v3.71h-7.41zM581.95 344.02h7.41v3.71h-7.41zM596.78 344.02h3.71v3.71h-3.71zM604.2 344.02h3.71v3.71h-3.71zM615.32 344.02h3.71v3.71h-3.71zM622.73 344.02h3.71v3.71h-3.71zM633.85 344.02h3.71v3.71h-3.71zM641.27 344.02h3.71v3.71h-3.71zM652.39 344.02h3.71v3.71h-3.71zM659.8 344.02h3.71v3.71h-3.71zM670.93 344.02h3.71v3.71h-3.71zM678.34 344.02h3.71v3.71h-3.71zM689.46 344.02h11.12v3.71h-11.12zM704.29 344.02h3.71v3.71h-3.71zM559.71 347.73h33.37v3.71h-33.37zM596.78 347.73h7.41v3.71h-7.41zM611.61 347.73h7.41v3.71h-7.41zM637.56 347.73h7.41v3.71h-7.41zM652.39 347.73h18.54v3.71h-18.54zM678.34 347.73h3.71v3.71h-3.71zM693.17 347.73h7.41v3.71h-7.41zM704.29 347.73h3.71v3.71h-3.71zM556 351.44h18.54v3.71h-18.54zM585.66 351.44h3.71v3.71h-3.71zM593.07 351.44h7.41v3.71h-7.41zM607.9 351.44h3.71v3.71h-3.71zM619.02 351.44h3.71v3.71h-3.71zM626.44 351.44h3.71v3.71h-3.71zM633.85 351.44h7.41v3.71h-7.41zM648.68 351.44h3.71v3.71h-3.71zM656.1 351.44h11.12v3.71h-11.12zM678.34 351.44h11.12v3.71h-11.12zM693.17 351.44h3.71v3.71h-3.71zM704.29 351.44h3.71v3.71h-3.71zM556 355.15h7.41v3.71h-7.41zM570.83 355.15h14.83v3.71h-14.83zM593.07 355.15h22.24v3.71h-22.24zM619.02 355.15h3.71v3.71h-3.71zM626.44 355.15h3.71v3.71h-3.71zM633.85 355.15h11.12v3.71h-11.12zM656.1 355.15h11.12v3.71h-11.12zM674.63 355.15h7.41v3.71h-7.41zM689.46 355.15h7.41v3.71h-7.41zM700.59 355.15h3.71v3.71h-3.71zM567.12 358.85h7.41v3.71h-7.41zM581.95 358.85h14.83v3.71h-14.83zM604.2 358.85h3.71v3.71h-3.71zM611.61 358.85h11.12v3.71h-11.12zM633.85 358.85h7.41v3.71h-7.41zM652.39 358.85h22.24v3.71h-22.24zM682.05 358.85h18.54v3.71h-18.54zM704.29 358.85h3.71v3.71h-3.71zM556 362.56h7.41v3.71h-7.41zM567.12 362.56h3.71v3.71h-3.71zM574.54 362.56h7.41v3.71h-7.41zM589.37 362.56h3.71v3.71h-3.71zM604.2 362.56h3.71v3.71h-3.71zM615.32 362.56h7.41v3.71h-7.41zM630.15 362.56h3.71v3.71h-3.71zM641.27 362.56h7.41v3.71h-7.41zM652.39 362.56h11.12v3.71h-11.12zM674.63 362.56h11.12v3.71h-11.12zM689.46 362.56h7.41v3.71h-7.41zM704.29 362.56h3.71v3.71h-3.71zM563.41 366.27h14.83v3.71h-14.83zM589.37 366.27h3.71v3.71h-3.71zM600.49 366.27h7.41v3.71h-7.41zM619.02 366.27h29.66v3.71h-29.66zM656.1 366.27h11.12v3.71h-11.12zM674.63 366.27h3.71v3.71h-3.71zM682.05 366.27h3.71v3.71h-3.71zM689.46 366.27h7.41v3.71h-7.41zM700.59 366.27h3.71v3.71h-3.71zM556 369.98h14.83v3.71h-14.83zM578.24 369.98h3.71v3.71h-3.71zM585.66 369.98h7.41v3.71h-7.41zM596.78 369.98h7.41v3.71h-7.41zM607.9 369.98h7.41v3.71h-7.41zM619.02 369.98h3.71v3.71h-3.71zM626.44 369.98h25.95v3.71h-25.95zM659.8 369.98h3.71v3.71h-3.71zM678.34 369.98h3.71v3.71h-3.71zM685.76 369.98h3.71v3.71h-3.71zM700.59 369.98h3.71v3.71h-3.71zM556 373.68h3.71v3.71h-3.71zM563.41 373.68h14.83v3.71h-14.83zM581.95 373.68h7.41v3.71h-7.41zM596.78 373.68h3.71v3.71h-3.71zM607.9 373.68h11.12v3.71h-11.12zM648.68 373.68h7.41v3.71h-7.41zM659.8 373.68h7.41v3.71h-7.41zM678.34 373.68h7.41v3.71h-7.41zM689.46 373.68h3.71v3.71h-3.71zM704.29 373.68h3.71v3.71h-3.71zM563.41 377.39h7.41v3.71h-7.41zM578.24 377.39h37.07v3.71h-37.07zM619.02 377.39h7.41v3.71h-7.41zM630.15 377.39h3.71v3.71h-3.71zM637.56 377.39h14.83v3.71h-14.83zM656.1 377.39h11.12v3.71h-11.12zM670.93 377.39h3.71v3.71h-3.71zM678.34 377.39h22.24v3.71h-22.24zM704.29 377.39h3.71v3.71h-3.71zM567.12 381.1h3.71v3.71h-3.71zM574.54 381.1h3.71v3.71h-3.71zM581.95 381.1h3.71v3.71h-3.71zM596.78 381.1h11.12v3.71h-11.12zM611.61 381.1h14.83v3.71h-14.83zM633.85 381.1h3.71v3.71h-3.71zM641.27 381.1h3.71v3.71h-3.71zM652.39 381.1h18.54v3.71h-18.54zM674.63 381.1h3.71v3.71h-3.71zM682.05 381.1h14.83v3.71h-14.83zM700.59 381.1h3.71v3.71h-3.71zM559.71 384.8h22.24v3.71h-22.24zM585.66 384.8h14.83v3.71h-14.83zM604.2 384.8h3.71v3.71h-3.71zM611.61 384.8h3.71v3.71h-3.71zM619.02 384.8h11.12v3.71h-11.12zM637.56 384.8h3.71v3.71h-3.71zM644.98 384.8h3.71v3.71h-3.71zM663.51 384.8h3.71v3.71h-3.71zM670.93 384.8h11.12v3.71h-11.12zM693.17 384.8h3.71v3.71h-3.71zM556 388.51h7.41v3.71h-7.41zM581.95 388.51h3.71v3.71h-3.71zM600.49 388.51h11.12v3.71h-11.12zM622.73 388.51h7.41v3.71h-7.41zM633.85 388.51h14.83v3.71h-14.83zM652.39 388.51h3.71v3.71h-3.71zM659.8 388.51h11.12v3.71h-11.12zM674.63 388.51h25.95v3.71h-25.95zM704.29 388.51h3.71v3.71h-3.71zM567.12 392.22h37.07v3.71h-37.07zM611.61 392.22h3.71v3.71h-3.71zM619.02 392.22h7.41v3.71h-7.41zM633.85 392.22h3.71v3.71h-3.71zM641.27 392.22h11.12v3.71h-11.12zM656.1 392.22h3.71v3.71h-3.71zM667.22 392.22h11.12v3.71h-11.12zM682.05 392.22h7.41v3.71h-7.41zM693.17 392.22h7.41v3.71h-7.41zM704.29 392.22h3.71v3.71h-3.71zM563.41 395.93h3.71v3.71h-3.71zM574.54 395.93h3.71v3.71h-3.71zM581.95 395.93h11.12v3.71h-11.12zM596.78 395.93h3.71v3.71h-3.71zM607.9 395.93h14.83v3.71h-14.83zM626.44 395.93h3.71v3.71h-3.71zM633.85 395.93h3.71v3.71h-3.71zM641.27 395.93h7.41v3.71h-7.41zM659.8 395.93h7.41v3.71h-7.41zM674.63 395.93h22.24v3.71h-22.24zM700.59 395.93h3.71v3.71h-3.71zM556 399.63h11.12v3.71h-11.12zM570.83 399.63h18.54v3.71h-18.54zM593.07 399.63h3.71v3.71h-3.71zM600.49 399.63h7.41v3.71h-7.41zM619.02 399.63h3.71v3.71h-3.71zM626.44 399.63h11.12v3.71h-11.12zM644.98 399.63h3.71v3.71h-3.71zM663.51 399.63h33.37v3.71h-33.37zM704.29 399.63h3.71v3.71h-3.71zM585.66 403.34h3.71v3.71h-3.71zM593.07 403.34h7.41v3.71h-7.41zM604.2 403.34h3.71v3.71h-3.71zM611.61 403.34h14.83v3.71h-14.83zM630.15 403.34h3.71v3.71h-3.71zM637.56 403.34h3.71v3.71h-3.71zM652.39 403.34h3.71v3.71h-3.71zM659.8 403.34h7.41v3.71h-7.41zM674.63 403.34h3.71v3.71h-3.71zM689.46 403.34h7.41v3.71h-7.41zM700.59 403.34h3.71v3.71h-3.71zM556 407.05h25.95v3.71h-25.95zM593.07 407.05h7.41v3.71h-7.41zM611.61 407.05h3.71v3.71h-3.71zM619.02 407.05h7.41v3.71h-7.41zM637.56 407.05h7.41v3.71h-7.41zM648.68 407.05h14.83v3.71h-14.83zM667.22 407.05h11.12v3.71h-11.12zM682.05 407.05h3.71v3.71h-3.71zM689.46 407.05h7.41v3.71h-7.41zM704.29 407.05h3.71v3.71h-3.71zM556 410.76h3.71v3.71h-3.71zM578.24 410.76h3.71v3.71h-3.71zM585.66 410.76h14.83v3.71h-14.83zM607.9 410.76h3.71v3.71h-3.71zM619.02 410.76h22.24v3.71h-22.24zM652.39 410.76h3.71v3.71h-3.71zM659.8 410.76h11.12v3.71h-11.12zM674.63 410.76h3.71v3.71h-3.71zM689.46 410.76h7.41v3.71h-7.41zM556 414.46h3.71v3.71h-3.71zM563.41 414.46h11.12v3.71h-11.12zM578.24 414.46h3.71v3.71h-3.71zM585.66 414.46h37.07v3.71h-37.07zM633.85 414.46h7.41v3.71h-7.41zM644.98 414.46h3.71v3.71h-3.71zM652.39 414.46h3.71v3.71h-3.71zM659.8 414.46h37.07v3.71h-37.07zM556 418.17h3.71v3.71h-3.71zM563.41 418.17h11.12v3.71h-11.12zM578.24 418.17h3.71v3.71h-3.71zM589.37 418.17h3.71v3.71h-3.71zM596.78 418.17h11.12v3.71h-11.12zM611.61 418.17h3.71v3.71h-3.71zM633.85 418.17h11.12v3.71h-11.12zM652.39 418.17h29.66v3.71h-29.66zM685.76 418.17h22.24v3.71h-22.24zM556 421.88h3.71v3.71h-3.71zM563.41 421.88h11.12v3.71h-11.12zM578.24 421.88h3.71v3.71h-3.71zM607.9 421.88h11.12v3.71h-11.12zM622.73 421.88h3.71v3.71h-3.71zM630.15 421.88h3.71v3.71h-3.71zM641.27 421.88h11.12v3.71h-11.12zM656.1 421.88h7.41v3.71h-7.41zM667.22 421.88h3.71v3.71h-3.71zM678.34 421.88h11.12v3.71h-11.12zM693.17 421.88h7.41v3.71h-7.41zM704.29 421.88h3.71v3.71h-3.71zM556 425.59h3.71v3.71h-3.71zM578.24 425.59h3.71v3.71h-3.71zM585.66 425.59h3.71v3.71h-3.71zM600.49 425.59h3.71v3.71h-3.71zM619.02 425.59h18.54v3.71h-18.54zM641.27 425.59h7.41v3.71h-7.41zM652.39 425.59h3.71v3.71h-3.71zM663.51 425.59h33.37v3.71h-33.37zM700.59 425.59h7.41v3.71h-7.41zM556 429.29h25.95v3.71h-25.95zM585.66 429.29h7.41v3.71h-7.41zM596.78 429.29h7.41v3.71h-7.41zM619.02 429.29h3.71v3.71h-3.71zM630.15 429.29h14.83v3.71h-14.83zM656.1 429.29h3.71v3.71h-3.71zM674.63 429.29h14.83v3.71h-14.83zM693.17 429.29h3.71v3.71h-3.71zM700.59 429.29h3.71v3.71h-3.71z" fill="#0a0a0a"/>
<rect x="718" y="441.2" width="32" height="17.8" fill="#4f4f4f"/>
<text x="720.2" y="447.8" font-family="Liberation Sans, Arial, sans-serif" font-size="5.6" fill="#e0e0e0" textLength="28.2" lengthAdjust="spacingAndGlyphs">14-10-2014</text>
<text x="747.4" y="456.9" font-family="Liberation Sans, Arial, sans-serif" font-size="8.2" fill="#f0f0f0" text-anchor="end">v 1.1</text>
<g stroke="#414141" fill="none" stroke-linecap="round" stroke-linejoin="round">
<path d="M47 402.6C48.5 406.5 52 409.6 57.5 410.3" stroke-width="1.7"/>
<path d="M71.8 401.6C71 405.5 67.5 409.5 61.3 411" stroke-width="1.7"/>
<path d="M58.6 407.6C56.6 405.6 56.2 401.2 59.2 400.4C62.4 399.6 64 402 63.2 404.2C62.4 406.4 60 407.4 58.6 407.6Z" stroke-width="1.4"/>
<path d="M58.6 407.6C57.6 411 56.6 415.5 54.8 419.3C53.2 422.5 50.6 424.6 47.8 425.3" stroke-width="2.2"/>
<path d="M61.2 411.2C62 414.5 63.6 418.6 66.2 423.6L69.8 424.2" stroke-width="1.8"/>
</g>
</svg>
</body></html>
